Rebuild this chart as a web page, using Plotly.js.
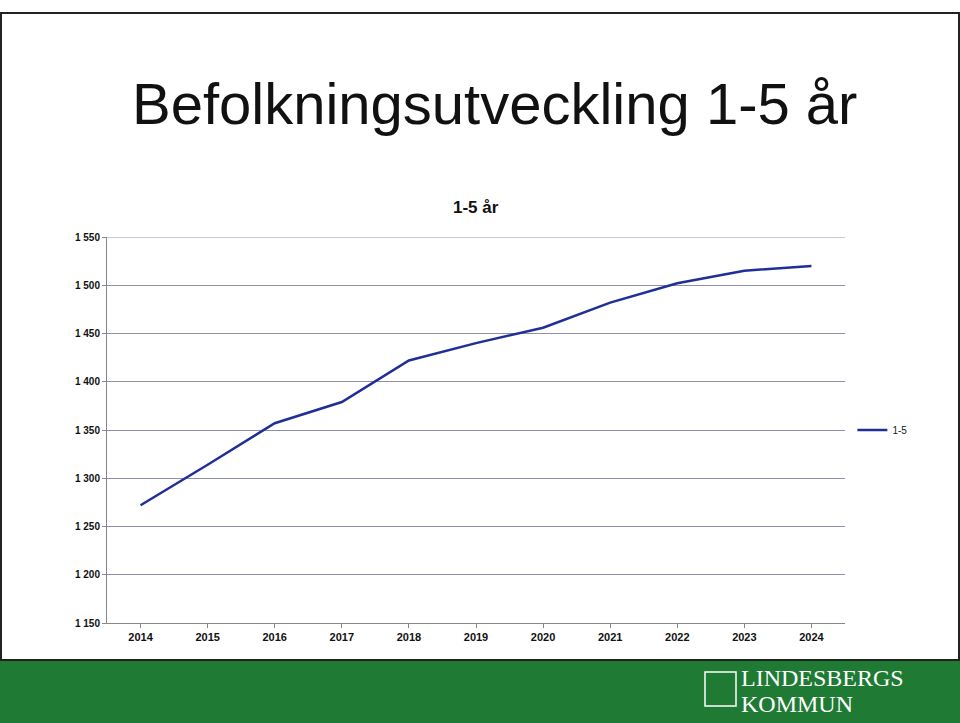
<!DOCTYPE html>
<html>
<head>
<meta charset="utf-8">
<script src="https://cdn.plot.ly/plotly-3.0.1.min.js"></script>
<style>html,body{margin:0;padding:0;background:#fff}#chart{width:960px;height:723px}</style>
</head>
<body>
<div id="chart"></div>
<script>
var years = ['2014','2015','2016','2017','2018','2019','2020','2021','2022','2023','2024'];
var values = [1272, 1314, 1357, 1379, 1422, 1440, 1456, 1482, 1502, 1515, 1520];
var yTicks = [1150, 1200, 1250, 1300, 1350, 1400, 1450, 1500, 1550];

var W = 960, H = 723;
var plotL = 107, plotR = 845, plotT = 237, plotB = 623;
function ax(x){ return (x - plotL) / (plotR - plotL); }
function ay(y){ return (plotB - y) / (plotB - plotT); }

var trace = {
    x: years,
    y: values,
    type: 'scatter',
    mode: 'lines',
    name: '1-5',
    line: {color: '#1f2f96', width: 2.5}
};

var layout = {
    width: W, height: H,
    margin: {l: plotL, r: W - plotR, t: plotT, b: H - plotB},
    paper_bgcolor: '#fff',
    plot_bgcolor: '#fff',
    separators: '. ',
    showlegend: true,
    legend: {x: 1.01, y: 0.5, xanchor: 'left', yanchor: 'middle', font: {family: 'Liberation Sans, sans-serif', size: 10, color: '#222'}},
    xaxis: {
        type: 'category',
        range: [-0.5, 10.5],
        showgrid: false,
        showline: true, linecolor: '#888',
        ticks: 'outside', ticklen: 4, tickcolor: '#888',
        tickfont: {family: 'Liberation Sans, sans-serif', size: 11, color: '#111', weight: 'bold'}
    },
    yaxis: {
        range: [1150, 1550],
        tickvals: yTicks,
        tickformat: ',d',
        showgrid: true, gridcolor: '#8d8fb0', gridwidth: 1,
        showline: true, linecolor: '#888',
        ticks: 'outside', ticklen: 4, tickcolor: '#888',
        zeroline: false,
        tickfont: {family: 'Liberation Sans, sans-serif', size: 10, color: '#111', weight: 'bold'}
    },
    shapes: [
        {type: 'rect', xref: 'paper', yref: 'paper', x0: ax(0), x1: ax(W), y0: ay(H), y1: ay(660), fillcolor: '#1f7a34', line: {width: 0}, layer: 'below'},
        {type: 'rect', xref: 'paper', yref: 'paper', x0: ax(1), x1: ax(W - 1), y0: ay(660), y1: ay(13), fillcolor: 'rgba(0,0,0,0)', line: {color: '#222', width: 2}, layer: 'below'},
        {type: 'line', xref: 'paper', yref: 'y', x0: 0, x1: 1, y0: 1550, y1: 1550, line: {color: '#8d8fb0', width: 1}, layer: 'below'},
        {type: 'rect', xref: 'paper', yref: 'paper', x0: ax(705), x1: ax(736), y0: ay(706), y1: ay(672), fillcolor: 'rgba(0,0,0,0)', line: {color: '#fff', width: 1.5}}
    ],
    annotations: [
        {text: 'Befolkningsutveckling 1-5 år', xref: 'paper', yref: 'paper', x: ax(494), y: ay(103), xanchor: 'center', yanchor: 'middle', showarrow: false,
         font: {family: 'Liberation Sans, Arial, sans-serif', size: 58, color: '#111'}},
        {text: '<b>1-5 år</b>', xref: 'paper', yref: 'paper', x: ax(476), y: ay(208), xanchor: 'center', yanchor: 'middle', showarrow: false,
         font: {family: 'Liberation Sans, sans-serif', size: 17, color: '#111'}},
        {text: 'LINDESBERGS', xref: 'paper', yref: 'paper', x: ax(739), y: ay(678), xanchor: 'left', yanchor: 'middle', showarrow: false,
         font: {family: 'Liberation Serif, serif', size: 24, color: '#fff'}},
        {text: 'KOMMUN', xref: 'paper', yref: 'paper', x: ax(739), y: ay(704), xanchor: 'left', yanchor: 'middle', showarrow: false,
         font: {family: 'Liberation Serif, serif', size: 24, color: '#fff'}}
    ]
};

Plotly.newPlot('chart', [trace], layout, {displayModeBar: false});
</script>
</body>
</html>
